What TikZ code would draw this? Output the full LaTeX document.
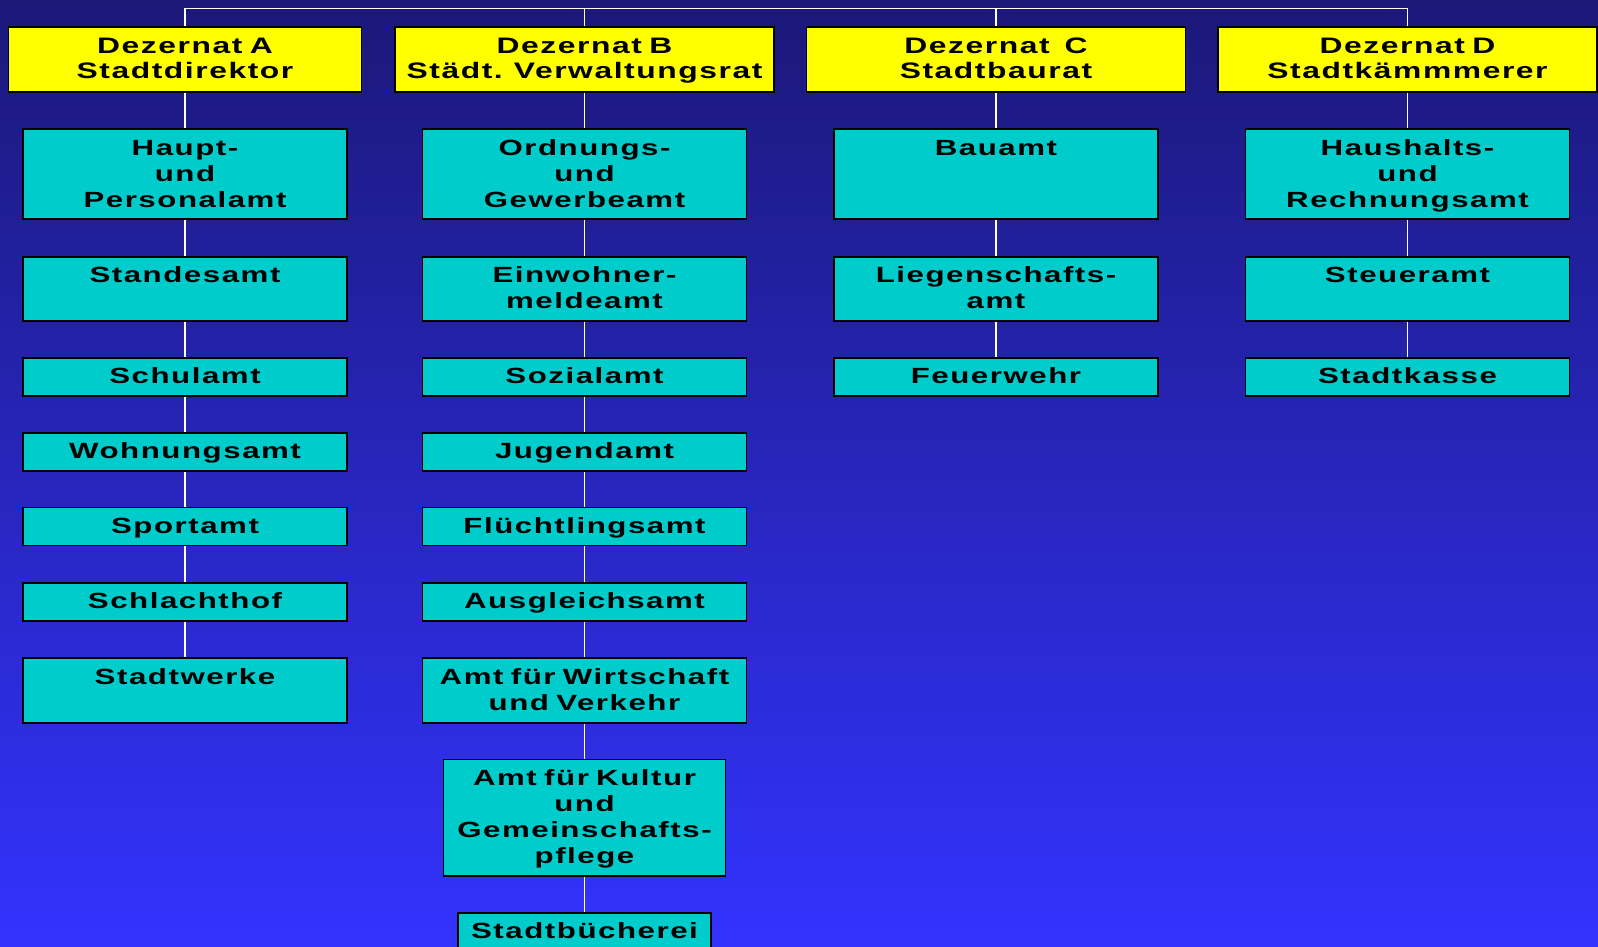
\documentclass[tikz,border=0pt]{standalone}
\usepackage{fontspec}
\newfontfamily\orgfont{Liberation Sans}[FakeStretch=1.42,LetterSpace=7]
\definecolor{bgtop}{RGB}{27,24,120}
\definecolor{bgbot}{RGB}{51,51,255}
\definecolor{amtcol}{RGB}{0,204,204}
\definecolor{dezcol}{RGB}{255,255,0}
\tikzset{
  dezbox/.style={draw=black, line width=1.8pt, fill=dezcol, inner sep=0pt,
    text width=#1, align=center, anchor=north,
    font=\orgfont\bfseries\fontsize{22.4}{24.5}\selectfont,
    text height=26.5pt, text depth=38pt},
  amtbox/.style={draw=black, line width=1.8pt, fill=amtcol, inner sep=0pt,
    text width=324pt, align=center, anchor=north,
    font=\orgfont\bfseries\fontsize{22}{26}\selectfont,
    text height=25.8pt},
  conn/.style={draw=white, line width=1.6pt}
}
\begin{document}
\begin{tikzpicture}[x=1pt,y=-1pt]
\useasboundingbox (0,0) rectangle (1598,947);
\shade[top color=bgtop, bottom color=bgbot] (0,0) rectangle (1598,947);
% bus coordinates
\coordinate (busA) at (185,8.5);
\coordinate (busB) at (584.5,8.5);
\coordinate (busC) at (996,8.5);
\coordinate (busD) at (1407.5,8.5);
% Dezernate
\node[dezbox=353pt] (dA) at (185,26.5) {Dezernat A\\Stadtdirektor};
\node[dezbox=379pt] (dB) at (584.5,26.5) {Dezernat B\\Städt. Verwaltungsrat};
\node[dezbox=379pt] (dC) at (996,26.5) {Dezernat~~C\\Stadtbaurat};
\node[dezbox=379pt] (dD) at (1407.5,26.5) {Dezernat D\\Stadtkämmmerer};
% Column A
\node[amtbox, text depth=64.2pt] (a1) at (185,128.4) {Haupt-\\und\\Personalamt};
\node[amtbox, text depth=38.2pt] (a2) at (185,255.8) {Standesamt};
\node[amtbox, text depth=12.2pt] (a3) at (185,356.7) {Schulamt};
\node[amtbox, text depth=12.2pt] (a4) at (185,432) {Wohnungsamt};
\node[amtbox, text depth=12.2pt] (a5) at (185,506.5) {Sportamt};
\node[amtbox, text depth=12.2pt] (a6) at (185,582) {Schlachthof};
\node[amtbox, text depth=38.7pt] (a7) at (185,657.3) {Stadtwerke};
% Column B
\node[amtbox, text depth=64.2pt] (b1) at (584.5,128.4) {Ordnungs-\\und\\Gewerbeamt};
\node[amtbox, text depth=38.2pt] (b2) at (584.5,255.8) {Einwohner-\\meldeamt};
\node[amtbox, text depth=12.2pt] (b3) at (584.5,356.7) {Sozialamt};
\node[amtbox, text depth=12.2pt] (b4) at (584.5,432) {Jugendamt};
\node[amtbox, text depth=12.2pt] (b5) at (584.5,506.5) {Flüchtlingsamt};
\node[amtbox, text depth=12.2pt] (b6) at (584.5,582) {Ausgleichsamt};
\node[amtbox, text depth=38.7pt] (b7) at (584.5,657.3) {Amt für Wirtschaft\\und Verkehr};
\node[amtbox, text width=282pt, text depth=90.7pt] (b8) at (584.5,758.5) {Amt für Kultur\\und\\Gemeinschafts-\\pflege};
\node[amtbox, text width=253pt, text depth=15.7pt] (b9) at (584.5,912) {Stadtbücherei};
% Column C
\node[amtbox, text depth=64.2pt] (c1) at (996,128.4) {Bauamt};
\node[amtbox, text depth=38.2pt] (c2) at (996,255.8) {Liegenschafts-\\amt};
\node[amtbox, text depth=12.2pt] (c3) at (996,356.7) {Feuerwehr};
% Column D
\node[amtbox, text depth=64.2pt] (d1) at (1407.5,128.4) {Haushalts-\\und\\Rechnungsamt};
\node[amtbox, text depth=38.2pt] (d2) at (1407.5,255.8) {Steueramt};
\node[amtbox, text depth=12.2pt] (d3) at (1407.5,356.7) {Stadtkasse};
% Connectors
\draw[conn] (busA) -- (busD);
\draw[conn] (busA) -- (dA.north);
\draw[conn] (busB) -- (dB.north);
\draw[conn] (busC) -- (dC.north);
\draw[conn] (busD) -- (dD.north);
\draw[conn] (dA.south) -- (a1.north);
\draw[conn] (a1.south) -- (a2.north);
\draw[conn] (a2.south) -- (a3.north);
\draw[conn] (a3.south) -- (a4.north);
\draw[conn] (a4.south) -- (a5.north);
\draw[conn] (a5.south) -- (a6.north);
\draw[conn] (a6.south) -- (a7.north);
\draw[conn] (dB.south) -- (b1.north);
\draw[conn] (b1.south) -- (b2.north);
\draw[conn] (b2.south) -- (b3.north);
\draw[conn] (b3.south) -- (b4.north);
\draw[conn] (b4.south) -- (b5.north);
\draw[conn] (b5.south) -- (b6.north);
\draw[conn] (b6.south) -- (b7.north);
\draw[conn] (b7.south) -- (b8.north);
\draw[conn] (b8.south) -- (b9.north);
\draw[conn] (dC.south) -- (c1.north);
\draw[conn] (c1.south) -- (c2.north);
\draw[conn] (c2.south) -- (c3.north);
\draw[conn] (dD.south) -- (d1.north);
\draw[conn] (d1.south) -- (d2.north);
\draw[conn] (d2.south) -- (d3.north);
\end{tikzpicture}
\end{document}
